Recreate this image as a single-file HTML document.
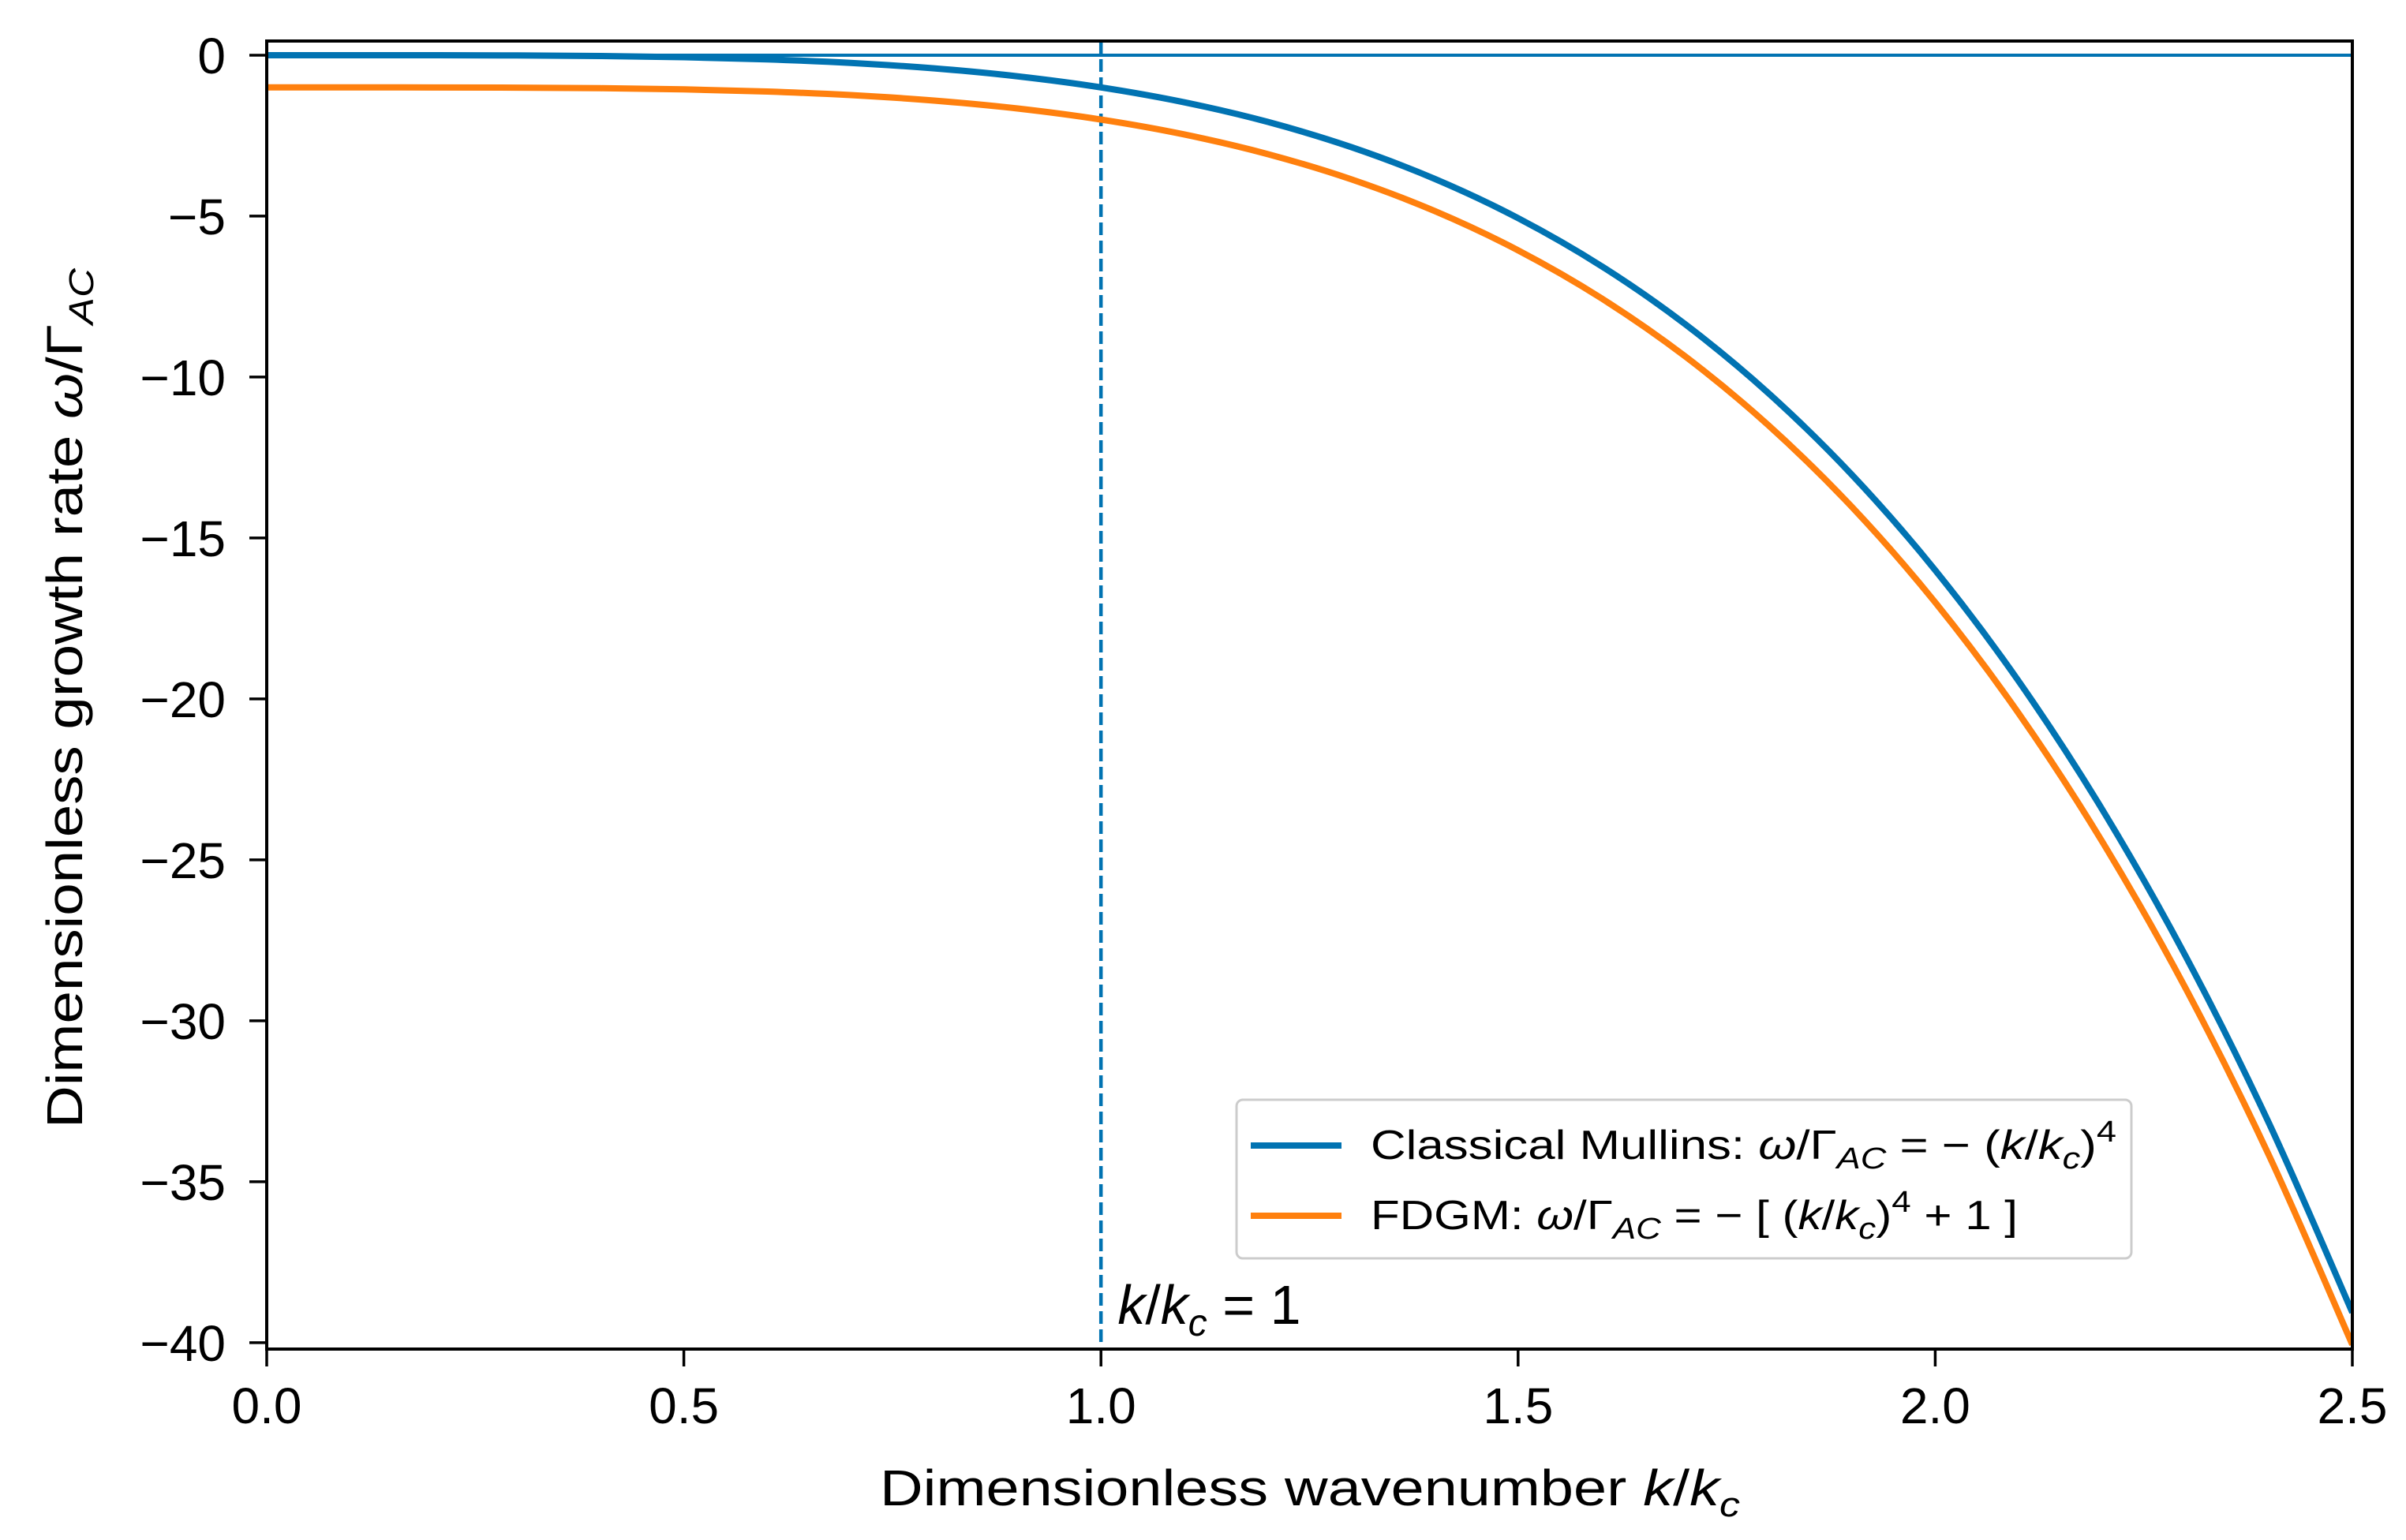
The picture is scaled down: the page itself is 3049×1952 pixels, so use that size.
<!DOCTYPE html>
<html><head><meta charset="utf-8"><style>
html,body{margin:0;padding:0;background:#fff;}
svg{display:block;font-family:"Liberation Sans","DejaVu Sans",sans-serif;}
</style></head><body>
<svg id="chart" width="3049" height="1952" viewBox="0 0 3049 1952" xmlns="http://www.w3.org/2000/svg">
<rect x="0" y="0" width="3049" height="1952" fill="#fff"/>
<g id="series"></g>
<g id="axes"></g>
<g id="legend">
  <rect x="1567" y="1394" width="1134" height="201" rx="8" fill="#fff" stroke="#ccc" stroke-width="3"/>
  <line x1="1585" y1="1452" x2="1700" y2="1452" stroke="#0173b2" stroke-width="8"/>
  <text x="1737" y="1469" font-size="52" fill="#000" textLength="945" lengthAdjust="spacingAndGlyphs">Classical Mullins:  <tspan font-style="italic">ω</tspan>/Γ<tspan font-style="italic" font-size="38" dy="12">AC</tspan><tspan dy="-12"> = − (</tspan><tspan font-style="italic">k</tspan>/<tspan font-style="italic">k</tspan><tspan font-style="italic" font-size="38" dy="12">c</tspan><tspan dy="-12">)</tspan><tspan font-size="38" dy="-22">4</tspan></text>
  <line x1="1585" y1="1541" x2="1700" y2="1541" stroke="#ff800e" stroke-width="8"/>
  <text x="1737" y="1558" font-size="52" fill="#000" textLength="820" lengthAdjust="spacingAndGlyphs">FDGM:  <tspan font-style="italic">ω</tspan>/Γ<tspan font-style="italic" font-size="38" dy="12">AC</tspan><tspan dy="-12"> = − [ (</tspan><tspan font-style="italic">k</tspan>/<tspan font-style="italic">k</tspan><tspan font-style="italic" font-size="38" dy="12">c</tspan><tspan dy="-12">)</tspan><tspan font-size="38" dy="-22">4</tspan><tspan dy="22"> + 1 ]</tspan></text>
</g>
</svg>
<script>
const xValues = [0,0.1,0.2,0.3,0.4,0.5,0.6,0.7,0.8,0.9,1.0,1.1,1.2,1.3,1.4,1.5,1.6,1.7,1.8,1.9,2.0,2.1,2.2,2.3,2.4,2.5];
const mullinsValues = [0,-0.0001,-0.0016,-0.0081,-0.0256,-0.0625,-0.1296,-0.2401,-0.4096,-0.6561,-1,-1.4641,-2.0736,-2.8561,-3.8416,-5.0625,-6.5536,-8.3521,-10.4976,-13.0321,-16,-19.4481,-23.4256,-27.9841,-33.1776,-39.0625];
const fdgmValues = [-1,-1.0001,-1.0016,-1.0081,-1.0256,-1.0625,-1.1296,-1.2401,-1.4096,-1.6561,-2,-2.4641,-3.0736,-3.8561,-4.8416,-6.0625,-7.5536,-9.3521,-11.4976,-14.0321,-17,-20.4481,-24.4256,-28.9841,-34.1776,-40.0625];
const xTicks = [0,0.5,1.0,1.5,2.0,2.5];
const xTickLabels = ["0.0","0.5","1.0","1.5","2.0","2.5"];
const yTicks = [0,-5,-10,-15,-20,-25,-30,-35,-40];
const yTickLabels = ["0","−5","−10","−15","−20","−25","−30","−35","−40"];
const markerX = [1.0];

const NS="http://www.w3.org/2000/svg";
const L=338,R=2981,T=52,B=1710;
const xMin=0,xMax=2.5,yTop=0.44,yBot=-40.2;
const xs=v=>L+(v-xMin)/(xMax-xMin)*(R-L);
const ys=v=>T+(yTop-v)/(yTop-yBot)*(B-T);
function mk(tag,attrs,parent){const e=document.createElementNS(NS,tag);for(const k in attrs)e.setAttribute(k,attrs[k]);parent.appendChild(e);return e;}
const series=document.getElementById('series'),axes=document.getElementById('axes');

function smoothPath(xa,ya){
  const p=xa.map((x,i)=>[xs(x),ys(ya[i])]);
  let d=`M${p[0][0]},${p[0][1]}`;
  for(let i=0;i<p.length-1;i++){
    const p0=p[Math.max(0,i-1)],p1=p[i],p2=p[i+1],p3=p[Math.min(p.length-1,i+2)];
    const c1=[p1[0]+(p2[0]-p0[0])/6,p1[1]+(p2[1]-p0[1])/6];
    const c2=[p2[0]-(p3[0]-p1[0])/6,p2[1]-(p3[1]-p1[1])/6];
    d+=` C${c1[0]},${c1[1]} ${c2[0]},${c2[1]} ${p2[0]},${p2[1]}`;
  }
  return d;
}
const clip=mk('clipPath',{id:'pc'},series);
mk('rect',{x:L,y:T,width:R-L,height:B-T},clip);

const hz=mk('line',{x1:L,x2:R,y1:ys(0),y2:ys(0),stroke:'#0173b2','stroke-width':4},series);


markerX.forEach(v=>{
  const vl=mk('line',{x1:xs(v),x2:xs(v),y1:T,y2:B,stroke:'#0173b2','stroke-width':4.5,'stroke-dasharray':'16,7'},series);
  
  
});
const pm=mk('path',{d:smoothPath(xValues,mullinsValues),fill:'none',stroke:'#0173b2','stroke-width':8,'clip-path':'url(#pc)'},series);


const pf=mk('path',{d:smoothPath(xValues,fdgmValues),fill:'none',stroke:'#ff800e','stroke-width':8,'clip-path':'url(#pc)'},series);



const ann=mk('text',{x:xs(1.02),y:1678,'font-size':70,fill:'#000'},series);


ann.innerHTML='<tspan font-style="italic">k</tspan>/<tspan font-style="italic">k</tspan><tspan font-style="italic" font-size="48" dy="15">c</tspan><tspan dy="-15"> = 1</tspan>';

const frame=mk('rect',{x:L,y:T,width:R-L,height:B-T,fill:'none',stroke:'#000','stroke-width':4},axes);



xTicks.forEach((v,i)=>{
  const t=mk('line',{x1:xs(v),x2:xs(v),y1:B,y2:B+22,stroke:'#000','stroke-width':3.5},axes);
  
  
  const lb=mk('text',{x:xs(v),y:B+94,'font-size':64,'text-anchor':'middle',fill:'#000'},axes);
  
  
  lb.textContent=xTickLabels[i];
});
yTicks.forEach((v,i)=>{
  const t=mk('line',{x1:L-22,x2:L,y1:ys(v),y2:ys(v),stroke:'#000','stroke-width':3.5},axes);
  
  
  const lb=mk('text',{x:L-52,y:ys(v)+23,'font-size':64,'text-anchor':'end',fill:'#000'},axes);
  
  
  lb.textContent=yTickLabels[i];
});
const xt=mk('text',{x:1115,y:1908,'font-size':64,fill:'#000',textLength:1090,lengthAdjust:'spacingAndGlyphs'},axes);


xt.innerHTML='Dimensionless wavenumber <tspan font-style="italic">k</tspan>/<tspan font-style="italic">k</tspan><tspan font-style="italic" font-size="44" dy="14">c</tspan>';
const yt=mk('text',{x:-545,y:0,'font-size':64,fill:'#000',textLength:1090,lengthAdjust:'spacingAndGlyphs',transform:'translate(104,885) rotate(-90)'},axes);


yt.innerHTML='Dimensionless growth rate <tspan font-style="italic">ω</tspan>/Γ<tspan font-style="italic" font-size="44" dy="14">AC</tspan>';
</script>
</body></html>
